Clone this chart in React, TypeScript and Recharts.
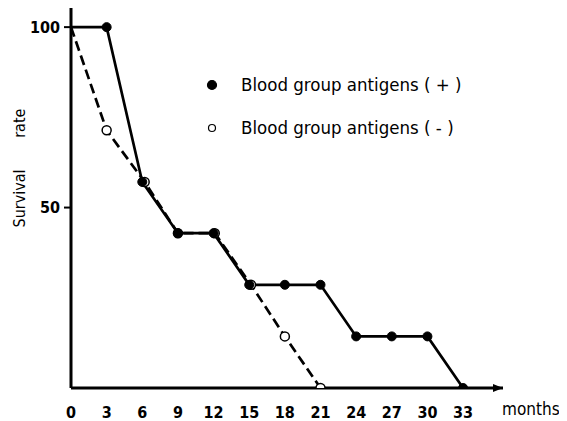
import React from 'react';
import {LineChart, Line, XAxis, YAxis, ReferenceDot} from 'recharts';

// survival curves (values in %, x in months)
const months = [0, 3, 6, 9, 12, 15, 18, 21, 24, 27, 30, 33];
const positiveRate = [100, 100, 57.1, 42.9, 42.9, 28.6, 28.6, 28.6, 14.3, 14.3, 14.3, 0];
const negativeMonths = [0, 3, 6.2, 9, 12.1, 15.15, 18, 21];
const negativeRate = [100, 71.4, 57.1, 42.9, 42.9, 28.6, 14.3, 0];
const yTicks = [50, 100];
const seriesNames = ['Blood group antigens ( + )', 'Blood group antigens ( - )'];
const xLabel = 'months';
const yLabel = 'Survival rate';

const X_MAX = 36.36;
const Y_MAX = 105.3;
const COND = "'DejaVu Sans Condensed', 'DejaVu Sans', sans-serif";

const positiveData = months.map((m, i) => ({month: m, rate: positiveRate[i]}));
const negativeData = negativeMonths.map((m, i) => ({month: m, rate: negativeRate[i]}));

const filledDot = (props: any) => {
    const {cx, cy, index} = props;
    if (index === 0) return <g key={`f-${index}`}/>;
    return <circle key={`f-${index}`} cx={cx} cy={cy} r={4.5} fill="#000" stroke="#000" strokeWidth={1}/>;
};

const openDot = (props: any) => {
    const {cx, cy, index} = props;
    if (index === 0) return <g key={`o-${index}`}/>;
    return <circle key={`o-${index}`} cx={cx} cy={cy} r={4.5} fill="#fff" stroke="#000" strokeWidth={1.5}/>;
};

const arrowHead = (props: any) => {
    const {cx, cy} = props;
    return <path d={`M${cx},${cy} L${cx - 10},${cy - 4} L${cx - 10},${cy + 4} Z`} fill="#000"/>;
};

const MonthsLabel = (props: any) => {
    const {viewBox} = props;
    return (
        <text x={viewBox.x + viewBox.width - 1} y={viewBox.y + 27} fontSize={17} fontFamily={COND}
              fontStretch="condensed" fill="#000">
            {xLabel}
        </text>
    );
};

const RateLabel = (props: any) => {
    const {viewBox} = props;
    const x = viewBox.x + 11;
    const y = viewBox.y + 160;
    return (
        <text x={x} y={y} transform={`rotate(-90, ${x}, ${y})`} textAnchor="middle" dominantBaseline="central"
              fontSize={16} fontFamily={COND} fontStretch="condensed" wordSpacing={27} fill="#000">
            {yLabel}
        </text>
    );
};

const LegendBox = () => (
    <div style={{fontFamily: COND, fontStretch: 'condensed', fontSize: 18.5, color: '#000'}}>
        {seriesNames.map((name, i) => (
            <div key={name} style={{display: 'flex', alignItems: 'center', height: 43}}>
                <svg width={18} height={12} style={{marginLeft: 3}}>
                    <circle cx={6} cy={6} r={i === 0 ? 4.5 : 3.5} fill={i === 0 ? '#000' : '#fff'} stroke="#000"
                            strokeWidth={1.2}/>
                </svg>
                <span style={{marginLeft: 17, whiteSpace: 'pre'}}>{name}</span>
            </div>
        ))}
    </div>
);

export default function App() {
    const tickStyle = {fill: '#000', fontSize: 16, fontWeight: 'bold', fontFamily: COND, fontStretch: 'condensed'};
    return (
        <div style={{position: 'relative', width: 559, height: 413}}>
            <LineChart width={559} height={413} margin={{top: 0, right: 64, bottom: 0, left: 0}}>
                <XAxis
                    type="number"
                    dataKey="month"
                    domain={[0, X_MAX]}
                    ticks={months}
                    interval={0}
                    height={33}
                    tickLine={false}
                    tickSize={0}
                    tickMargin={19}
                    axisLine={{stroke: '#000', strokeWidth: 3}}
                    tick={tickStyle}
                    label={MonthsLabel}
                    allowDataOverflow
                />
                <YAxis
                    type="number"
                    domain={[0, Y_MAX]}
                    ticks={yTicks}
                    width={63}
                    tickSize={7}
                    tickMargin={4}
                    tickLine={{stroke: '#000', strokeWidth: 2}}
                    axisLine={{stroke: '#000', strokeWidth: 3}}
                    tick={tickStyle}
                    label={RateLabel}
                    allowDataOverflow
                />
                <Line data={negativeData} dataKey="rate" name={seriesNames[1]} type="linear" stroke="#000"
                      strokeWidth={2.7} strokeDasharray="10 5" dot={openDot} isAnimationActive={false}/>
                <Line data={positiveData} dataKey="rate" name={seriesNames[0]} type="linear" stroke="#000"
                      strokeWidth={2.7} dot={filledDot} isAnimationActive={false}/>
                <ReferenceDot x={X_MAX} y={0} r={0} shape={arrowHead} ifOverflow="visible"/>
            </LineChart>
            <div style={{position: 'absolute', top: 55, left: 195}}>
                <LegendBox/>
            </div>
        </div>
    );
}
